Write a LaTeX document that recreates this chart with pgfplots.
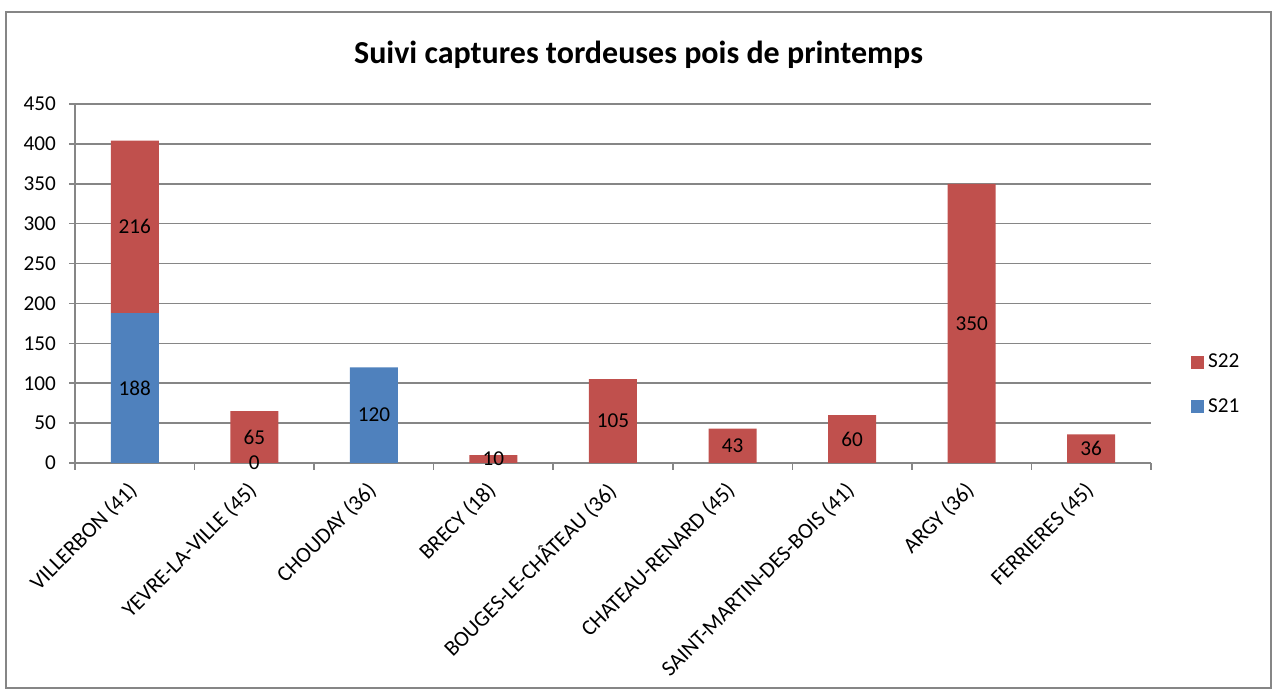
\documentclass[border=0pt]{standalone}
\usepackage{pgfplots}
\pgfplotsset{compat=1.18}
\usepackage{fontspec}
\setmainfont{Carlito}
\definecolor{sred}{HTML}{C0504D}
\definecolor{sblue}{HTML}{4F81BD}
\definecolor{gridgray}{HTML}{868686}
\begin{document}
\begin{tikzpicture}
\useasboundingbox (0pt,0pt) rectangle (638.5pt,344.5pt);
\draw[gridgray, line width=0.8pt] (3pt,0.6pt) rectangle (635.5pt,338.5pt);
\node[font=\bfseries\fontsize{16}{19}\selectfont] at (319.25pt,317pt) {Suivi captures tordeuses pois de printemps};
\begin{axis}[
  at={(37.5pt,113pt)}, anchor=south west,
  width=538pt, height=179.5pt, scale only axis,
  ybar stacked, bar width=24pt,
  xmin=-0.5, xmax=8.5, ymin=0, ymax=450,
  ytick={0,50,...,450},
  xtick={0,...,8},
  xticklabels={VILLERBON (41),YEVRE-LA-VILLE (45),CHOUDAY (36),BRECY (18),BOUGES-LE-CHÂTEAU (36),CHATEAU-RENARD (45),SAINT-MARTIN-DES-BOIS (41),ARGY (36),FERRIERES (45)},
  xticklabel style={yshift=-4pt, xshift=-4pt, rotate=45, anchor=north east, font=\fontsize{11}{13}\selectfont, inner sep=1pt},
  yticklabel style={font=\fontsize{10.6}{12}\selectfont, xshift=-3pt},
  /pgf/number format/assume math mode=true,
  axis lines*=left,
  axis line style={-, gridgray, line width=0.8pt},
  ymajorgrids,
  grid style={gridgray, line width=0.8pt},
  tick align=outside,
  major tick length=3pt,
  ytick style={gridgray, line width=0.8pt},
  xtick style={draw=none},
  extra x ticks={-0.5,0.5,1.5,2.5,3.5,4.5,5.5,6.5,7.5,8.5},
  extra x tick labels={},
  extra x tick style={xtick style={draw=gridgray, line width=0.8pt}, major tick length=3.5pt, grid=none},
  reverse legend,
  legend style={draw=none, fill=none, at={(1.037,0.2187)}, anchor=west, font=\fontsize{10.6}{12}\selectfont, row sep=10pt, inner sep=0pt},
  legend image code/.code={\fill[#1, draw=none] (0pt,-3.25pt) rectangle (6.5pt,3.25pt);},
]
\addplot[fill=sblue, draw=none] coordinates {(0,188) (1,0) (2,120) (3,0) (4,0) (5,0) (6,0) (7,0) (8,0)};
\addlegendentry{S21}
\addplot[fill=sred, draw=none] coordinates {(0,216) (1,65) (2,0) (3,10) (4,105) (5,43) (6,60) (7,350) (8,36)};
\addlegendentry{S22}
\end{axis}
\begin{axis}[
  at={(37.5pt,113pt)}, anchor=south west,
  width=538pt, height=179.5pt, scale only axis,
  xmin=-0.5, xmax=8.5, ymin=0, ymax=450,
  hide axis, clip=false,
]
\addplot[draw=none, mark=none, nodes near coords, point meta=explicit symbolic,
  every node near coord/.style={anchor=center, font=\fontsize{10.6}{12}\selectfont, text=black}]
  coordinates {(0,94)[188] (0,296)[216] (1,0)[0] (1,32.5)[65] (2,60)[120] (3,5)[10] (4,52.5)[105] (5,21.5)[43] (6,30)[60] (7,175)[350] (8,18)[36]};
\end{axis}
\end{tikzpicture}
\end{document}
